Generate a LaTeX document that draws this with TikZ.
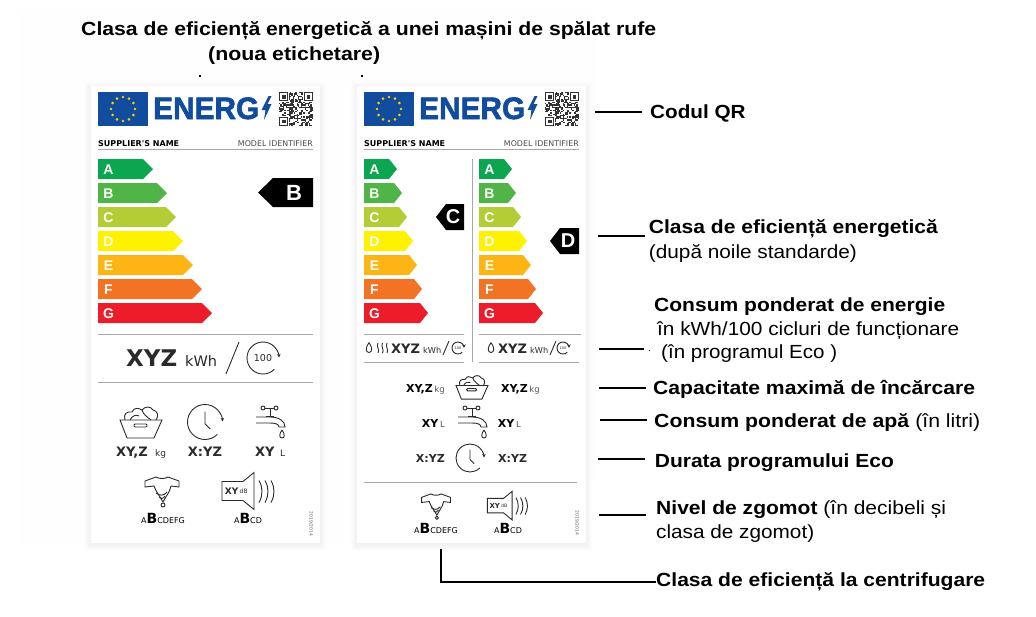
\documentclass[tikz,border=0pt]{standalone}
\usepackage{fontspec}
\usepackage{graphicx}
\setmainfont{Liberation Sans}
\newfontfamily\labelfont{DejaVu Sans}
\newfontfamily\energfont[BoldFeatures={FakeBold=2}]{Liberation Sans}
\usetikzlibrary{arrows.meta}
\definecolor{euBlue}{HTML}{114C9E}
\definecolor{euStar}{HTML}{F5D300}
\definecolor{energA}{HTML}{0CA650}
\definecolor{energB}{HTML}{50B447}
\definecolor{energC}{HTML}{B4CC36}
\definecolor{energD}{HTML}{FFF200}
\definecolor{energE}{HTML}{FDB515}
\definecolor{energF}{HTML}{F37324}
\definecolor{energG}{HTML}{EC1C2A}
\definecolor{ruleGray}{HTML}{A8A8A8}
\definecolor{iconDark}{HTML}{2A2A2A}
\newcommand{\px}[1]{\fontsize{#1}{#1}\selectfont}
\newcommand{\fittext}[2]{\resizebox{#1pt}{\height}{#2}}
\tikzset{
  leader/.style={line width=2pt},
  labelrule/.style={ruleGray,line width=.9pt},
  icon/.style={iconDark,line width=.9pt},
  sidetext/.style={anchor=base west,inner sep=0pt,font=\px{19}},
  barletter/.style={inner sep=0pt,text=white,font=\bfseries\px{14}},
  boldtext/.style={inner sep=0pt,iconDark,font=\labelfont\bfseries\px{#1}},
  thintext/.style={inner sep=0pt,iconDark,font=\labelfont\px{#1}},
  pics/cyclearrow/.style={code={
    \draw[icon,-{Stealth[length=3.5pt,width=3.5pt]}] (45:#1) arc[start angle=45,end angle=358,radius=#1];
  }},
  pics/clockface/.style={code={
    \draw[icon,-{Stealth[length=3.5pt,width=3.5pt]}] (45:#1) arc[start angle=45,end angle=358,radius=#1];
    \draw[icon] (0,-#1*.6) -- (0,#1*.1) -- (#1*.3,#1*.4);
  }},
  pics/basket/.style={code={
    \draw[icon] (-21,-2) -- (21,-2) -- (13,16) -- (-14,16) -- cycle;
    \draw[icon,rounded corners=1pt] (-7,2) rectangle (6,5);
    \draw[icon] (-16,-2) .. controls (-18,-8) and (-14,-11) .. (-9,-10) .. controls (-7,-15) and (-2,-14) .. (1,-12)
      .. controls (4,-16) and (10,-16) .. (12,-12) .. controls (17,-11) and (18,-6) .. (15,-2);
    \draw[icon] (-11,-2) .. controls (-9,-6) and (-5,-8) .. (-2,-6) (1,-12) .. controls (2,-8) and (6,-5) .. (10,-2);
  }},
  pics/waterTap/.style={code={
    \draw[icon] (-7,-14) circle[radius=2] (6,-14) circle[radius=2];
    \draw[icon] (-5,-14) -- (4,-14) (0,-14) -- (0,-6) (-4,-6) -- (4,-6);
    \draw[icon] (-14,-5) -- (0,-5) .. controls (9,-5) and (15,-1) .. (15,5) -- (9,5) .. controls (9,2) and (5,1) .. (0,1) -- (-14,1);
    \draw[icon] (12,8) .. controls (9,12) and (9,16) .. (12,16) .. controls (15,16) and (15,12) .. (12,8);
  }},
  pics/spinShirt/.style={code={
    \draw[icon] (-17,-9) -- (-6,-13) .. controls (-3,-11) and (3,-11) .. (6,-13) -- (17,-9) -- (17,-3) -- (9,-4)
      .. controls (8,2) and (4,6) .. (1,12) .. controls (-1,8) and (-6,2) .. (-8,-4) -- (-17,-3) -- cycle;
    \draw[icon] (-6,3) .. controls (-2,6) and (2,6) .. (5,2) (-3,7) .. controls (-1,9) and (1,9) .. (3,6);
    \draw[icon] (1,15) circle[radius=2];
  }},
  pics/soundBox/.style={code={
    \draw[icon] (-28,-10) -- (-7,-10) -- (4,-19) -- (4,18) -- (-7,9) -- (-28,9) -- cycle;
    \node[boldtext=9,anchor=east,transform shape] (#1xy) at (-11.5,-.5) {XY};
    \node[thintext=6,anchor=west,transform shape] (#1db) at (-10.5,-.5) {dB};
    \foreach \r in {8,14,20} {
      \draw[icon] (\r+1,-11) .. controls (\r+5,-4) and (\r+5,4) .. (\r+1,11);
    }
  }},
  pics/waterDrop/.style={code={
    \draw[icon] (0,-6) .. controls (-4,-1) and (-4,5) .. (0,5) .. controls (4,5) and (4,-1) .. (0,-6);
  }}
}
% head of a label: flag, logo, qr code, names
\newcommand{\labelhead}[2]{
  \begin{scope}[xshift=#2pt]
    \fill[euBlue] (98,92) rectangle (148,126);
    \foreach \a in {0,30,...,330} {
      \fill[euStar] (123,109) ++(\a:12) circle[radius=1.4];
    }
    \node[anchor=base west,inner sep=0pt,text=euBlue,font=\energfont\bfseries\px{31}] (#1energ) at (153,119) {\fittext{106}{ENERG}};
    \fill[euBlue] (268.5,96) -- (261.5,110) -- (265.5,110) -- (264,120) -- (271.5,104) -- (267.5,104) -- (271.5,96) -- cycle;
    \pgfmathsetseed{17}
    \foreach \i in {0,...,24} {
      \foreach \j in {0,...,24} {
        \pgfmathparse{rnd>.5 ? 1 : 0}
        \ifnum\pgfmathresult=1
          \fill[black!80] (279+\i*1.36,92+\j*1.36) rectangle ++(1.36,1.36);
        \fi
      }
    }
    \foreach \qx/\qy in {279/92, 303.5/92, 279/116.5} {
      \fill[white] (\qx-.5,\qy-.5) rectangle ++(10.5,10.5);
      \draw[black!80,line width=1.3pt] (\qx+.7,\qy+.7) rectangle ++(8.1,8.1);
      \fill[black!80] (\qx+3,\qy+3) rectangle ++(3.5,3.5);
    }
    \node[anchor=base west,inner sep=0pt,font=\labelfont\bfseries\px{8}] (#1supplier) at (98,146) {SUPPLIER'S NAME};
    \node[anchor=base east,inner sep=0pt,text=black!70,font=\labelfont\px{7.9}] (#1model) at (313,146) {MODEL IDENTIFIER};
    \draw[labelrule] (98,149.5) -- (313,149.5);
  \end{scope}
}
% scale of coloured bars
\newcommand{\energybars}[3]{
  \foreach \l/\t [count=\i from 0] in {#3} {
    \fill[energ\l] (#2,159+24*\i) -- (\t-#1,159+24*\i) -- (\t,169+24*\i) -- (\t-#1,179+24*\i) -- (#2,179+24*\i) -- cycle;
    \node[barletter] (bar#2\l) at (#2+10.5,169.5+24*\i) {\l};
  }
}
\begin{document}
\begin{tikzpicture}[x=1pt,y=-1pt]
  \useasboundingbox (0,0) rectangle (1036,616);
  \fill[black!.5] (18,10) rectangle (597,480);
  \fill[black!.5] (18,480) rectangle (590,545);
  % cards with their soft shadow
  \foreach \a/\b in {91/320, 357/586} {
    \foreach \d in {6,5,4,3,2,1} {
      \fill[black,opacity=.008] (\a-\d,86-\d+2) rectangle (\b+\d,543+\d+2);
    }
    \fill[white] (\a,86) rectangle (\b,543);
  }
  \fill[black] (199,75) rectangle ++(2,1.5);
  \fill[black] (361,75) rectangle ++(2,1.5);
  \labelhead{lft}{0}
  \labelhead{rgt}{266}
  \energybars{10}{98}{A/153, B/167, C/176, D/183, E/193, F/202, G/212}
  \energybars{8}{364}{A/397, B/402, C/407, D/413, E/417, F/422, G/428}
  \energybars{8}{479}{A/512, B/516, C/521, D/527, E/531, F/536, G/543}
  \foreach \n/\a/\b/\t/\h/\m/\cx/\l/\s in {tagB/258/313/178/29/15/294/B/22, tagC/436/464/204/26/10/453/C/20, tagD/550/579/228/26/10/568/D/20} {
    \fill[black] (\a,\t+\h/2) -- (\a+\m,\t) -- (\b,\t) -- (\b,\t+\h) -- (\a+\m,\t+\h) -- cycle;
    \node[inner sep=0pt,text=white,font=\bfseries\px{\s}] (\n) at (\cx,\t+\h/2) {\l};
  }
  \foreach \a/\b/\y in {98/313/334, 98/313/382, 364/464/334, 479/581/334, 364/464/362, 479/579/362, 364/577/482} {
    \draw[labelrule] (\a,\y) -- (\b,\y);
  }
  \draw[labelrule] (472,159) -- (472,362);
  % left label, lower part
  \node[boldtext=23,anchor=base west] (lftxyz) at (126,366) {XYZ};
  \node[thintext=14.5,anchor=base west] (lftkwh) at (185,366) {kWh};
  \draw[icon] (226,374) -- (239,342);
  \pic at (263,358) {cyclearrow=16};
  \node[thintext=9.5] (lftcycle) at (263,358) {100};
  \pic at (141,422) {basket};
  \pic at (205,422) {clockface=17.5};
  \pic at (270,422) {waterTap};
  \node[boldtext=13,anchor=base west] (lftkgxy) at (116,456) {XY,Z};
  \node[thintext=9,anchor=base west] (lftkg) at (155,456) {kg};
  \node[boldtext=13,anchor=base] (lfttime) at (205,456) {X:YZ};
  \node[boldtext=13,anchor=base west] (lftwater) at (255,456) {XY};
  \node[thintext=9,anchor=base west] (lftlit) at (280,456) {L};
  \pic at (162,490) {spinShirt};
  \pic at (250,491.5) {soundBox=lftsound};
  \node[anchor=base,inner sep=0pt] (lftspin) at (163,523) {\labelfont\px{8}A{\bfseries\px{14}B}CDEFG};
  \node[anchor=base,inner sep=0pt] (lftnoise) at (248,523) {\labelfont\px{8}A{\bfseries\px{14}B}CD};
  \node[inner sep=0pt,rotate=-90,text=black!60,font=\labelfont\px{4.5}] (lftdate) at (311,524) {2019/2014};
  % right label, lower part
  \pic at (369,348) [scale=.9] {waterDrop};
  \foreach \x in {378,382.5,387} {
    \draw[icon] (\x,343) .. controls (\x-2,346) and (\x+2,350) .. (\x,353);
  }
  \pic at (491,348) [scale=.9] {waterDrop};
  \foreach \n/\a/\b/\c/\cx in {lfthalf/391/423/443/458, rgthalf/498/530/550/563} {
    \node[boldtext=13,anchor=base west] (\n xyz) at (\a,353) {XYZ};
    \node[thintext=8.2,anchor=base west] (\n kwh) at (\b,353) {kWh};
    \draw[icon] (\c,355) -- (\c+6,341);
    \pic at (\cx,348) {cyclearrow=6};
    \node[thintext=3.5] (\n cycle) at (\cx,348) {100};
  }
  \pic at (472,387) [scale=.76] {basket};
  \pic at (472,422) {waterTap};
  \pic at (470,458) {clockface=14};
  \foreach \n/\l/\a/\s/\y/\t in {kga/XY{,}Z/445/kg/392/kg, kgb/XY{,}Z/540/kg/392/kg, ltra/XY/445/L/427/L, ltrb/XY/521/L/427/L} {
    \node[anchor=base east,inner sep=0pt] (\n) at (\a,\y) {\labelfont{\bfseries\px{11}\l}\,\px{8.5}{\color{iconDark!80}\t}};
  }
  \node[boldtext=11,anchor=base east] (timea) at (445,462) {X:YZ};
  \node[boldtext=11,anchor=base west] (timeb) at (498,462) {X:YZ};
  \pic at (436,505) [scale=.85] {spinShirt};
  \pic at (509,506) [scale=.77] {soundBox=rgtsound};
  \node[anchor=base,inner sep=0pt] (rgtspin) at (436,533) {\labelfont\px{8}A{\bfseries\px{14}B}CDEFG};
  \node[anchor=base,inner sep=0pt] (rgtnoise) at (508,533) {\labelfont\px{8}A{\bfseries\px{14}B}CD};
  \node[inner sep=0pt,rotate=-90,text=black!60,font=\labelfont\px{4.5}] (rgtdate) at (577,523) {2019/2014};
  % titles and side notes
  \foreach \n/\x/\y/\w/\t in {
    titlea/81/35/575/{\bfseries Clasa de eficiență energetică a unei mașini de spălat rufe},
    titleb/208/60/172/{\bfseries (noua etichetare)},
    qrnote/650/118/95.5/{\bfseries Codul QR},
    classa/648.7/233/289/{\bfseries Clasa de eficiență energetică},
    classb/648.7/258/208/{(după noile standarde)},
    usea/654/311.7/291/{\bfseries Consum ponderat de energie},
    useb/657/335.7/302/{în kWh/100 cicluri de funcționare},
    usec/661/358/176/{(în programul Eco )},
    loadnote/653/394/322/{\bfseries Capacitate maximă de încărcare},
    waternote/654/427/326/{\textbf{Consum ponderat de apă} (în litri)},
    timenote/654.7/467.7/239/{\bfseries Durata programului Eco},
    noisea/656/514/290/{\textbf{Nivel de zgomot} (în decibeli și},
    noiseb/656/538/158/{clasa de zgomot)},
    spinnote/656/586/329/{\bfseries Clasa de eficiență la centrifugare}} {
    \node[sidetext] (\n) at (\x,\y) {\fittext{\w}{\t}};
  }
  % leaders
  \foreach \n/\t/\x/\y/\g in {qrend/qrnote/595/112/8, classend/classa/598/236/3.7, useend/usea/599/349/10, loadend/loadnote/599/388/7, waterend/waternote/600/420/7, timeend/timenote/598/459/9.7, noiseend/noisea/599/515/10} {
    \coordinate (\n) at (\x,\y);
    \draw[leader,shorten >=\g pt] (\n) -- (\n -| \t.west);
  }
  \fill[black] (649,349.5) rectangle ++(.8,1.5);
  \coordinate (spinend) at (441,549);
  \coordinate (spincorner) at (441,582);
  \draw[leader] (spinend) -- (spincorner) -- (spincorner -| spinnote.west);
\end{tikzpicture}
\end{document}
